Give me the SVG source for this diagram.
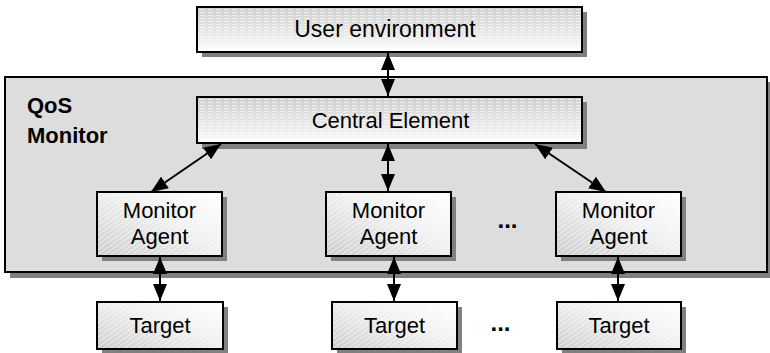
<svg xmlns="http://www.w3.org/2000/svg" width="770" height="353" viewBox="0 0 770 353">
  <defs>
    <linearGradient id="gradTop" x1="0" y1="0" x2="0" y2="1">
      <stop offset="0" stop-color="#cfcfcf"/>
      <stop offset="0.75" stop-color="#f0f0f0"/>
      <stop offset="1" stop-color="#ffffff"/>
    </linearGradient>
    <linearGradient id="gradBox" x1="0" y1="1" x2="1" y2="0">
      <stop offset="0" stop-color="#cccccc"/>
      <stop offset="0.55" stop-color="#f0f0f0"/>
      <stop offset="1" stop-color="#ffffff"/>
    </linearGradient>
    <pattern id="hatchH" width="8" height="3" patternUnits="userSpaceOnUse">
      <rect x="0" y="0" width="5" height="1" fill="#ffffff" opacity="0.6"/>
    </pattern>
    <pattern id="hatchD" width="4" height="4" patternUnits="userSpaceOnUse" patternTransform="rotate(-35)">
      <rect x="0" y="0" width="4" height="1" fill="#ffffff" opacity="0.55"/>
    </pattern>
    <marker id="arrow" markerUnits="userSpaceOnUse" markerWidth="18" markerHeight="14" refX="17" refY="7" orient="auto-start-reverse">
      <path d="M0,0 L17,7 L0,14 Z" fill="#000"/>
    </marker>
    <style>
      .shadow { fill: #808080; }
      .box { stroke: #000; stroke-width: 2; }
      .top { fill: url(#gradTop); }
      .node { fill: url(#gradBox); }
      .hh { fill: url(#hatchH); }
      .hd { fill: url(#hatchD); }
      .label { font-family: "Liberation Sans", Arial, sans-serif; font-size: 22px; fill: #000; text-anchor: middle; }
      .title { font-family: "Liberation Sans", Arial, sans-serif; font-size: 22px; font-weight: bold; fill: #000; }
      .dots { font-family: "Liberation Sans", Arial, sans-serif; font-size: 24px; font-weight: bold; fill: #000; text-anchor: middle; }
      .conn { stroke: #000; stroke-width: 2; fill: none; marker-start: url(#arrow); marker-end: url(#arrow); }
    </style>
  </defs>

  <rect width="770" height="353" fill="#ffffff"/>

  <!-- QoS Monitor container -->
  <g id="qos-monitor">
    <rect class="shadow" x="10" y="82" width="762" height="196"/>
    <rect x="5" y="77" width="762" height="195" fill="#dddddd" class="box"/>
    <text class="title" x="27" y="113">QoS</text>
    <text class="title" x="27" y="143">Monitor</text>
  </g>

  <!-- User environment -->
  <g id="user-environment">
    <rect class="shadow" x="202" y="12" width="385" height="45"/>
    <rect class="top box" x="197" y="7" width="385" height="45"/>
    <rect class="hh" x="198" y="8" width="383" height="43"/>
    <text class="label" x="385" y="37" style="font-size:23px">User environment</text>
  </g>

  <!-- Central Element -->
  <g id="central-element">
    <rect class="shadow" x="202" y="102" width="385" height="47"/>
    <rect class="top box" x="197" y="97" width="385" height="46"/>
    <rect class="hh" x="198" y="98" width="383" height="44"/>
    <text class="label" x="390.5" y="128">Central Element</text>
  </g>

  <!-- Monitor Agents -->
  <g id="agent-1">
    <rect class="shadow" x="102" y="197" width="125" height="64"/>
    <rect class="node box" x="97" y="192" width="125" height="64"/>
    <rect class="hd" x="98" y="193" width="123" height="62"/>
    <text class="label" x="159.5" y="218">Monitor</text>
    <text class="label" x="159.5" y="244">Agent</text>
  </g>
  <g id="agent-2">
    <rect class="shadow" x="331" y="197" width="125" height="64"/>
    <rect class="node box" x="326" y="192" width="125" height="64"/>
    <rect class="hd" x="327" y="193" width="123" height="62"/>
    <text class="label" x="388.5" y="218">Monitor</text>
    <text class="label" x="388.5" y="244">Agent</text>
  </g>
  <g id="agent-3">
    <rect class="shadow" x="561" y="197" width="125" height="64"/>
    <rect class="node box" x="556" y="192" width="125" height="64"/>
    <rect class="hd" x="557" y="193" width="123" height="62"/>
    <text class="label" x="618.5" y="218">Monitor</text>
    <text class="label" x="618.5" y="244">Agent</text>
  </g>
  <g id="agent-ellipsis">
    <text class="dots" x="507.5" y="228">...</text>
  </g>

  <!-- Targets -->
  <g id="target-1">
    <rect class="shadow" x="102" y="307" width="126" height="47"/>
    <rect class="node box" x="97" y="302" width="126" height="47"/>
    <rect class="hd" x="98" y="303" width="124" height="45"/>
    <text class="label" x="160" y="333">Target</text>
  </g>
  <g id="target-2">
    <rect class="shadow" x="337" y="307" width="125" height="47"/>
    <rect class="node box" x="332" y="302" width="125" height="47"/>
    <rect class="hd" x="333" y="303" width="123" height="45"/>
    <text class="label" x="394.5" y="333">Target</text>
  </g>
  <g id="target-3">
    <rect class="shadow" x="562" y="307" width="124" height="47"/>
    <rect class="node box" x="557" y="302" width="124" height="47"/>
    <rect class="hd" x="558" y="303" width="122" height="45"/>
    <text class="label" x="619" y="333">Target</text>
  </g>
  <g id="target-ellipsis">
    <text class="dots" x="500.5" y="331">...</text>
  </g>

  <!-- Connectors -->
  <g id="connectors">
    <path class="conn" d="M388,53 L388,96"/>
    <path class="conn" d="M221,144 L151,192"/>
    <path class="conn" d="M388,144 L388,191"/>
    <path class="conn" d="M535,144 L606,192"/>
    <path class="conn" d="M160,257 L160,301"/>
    <path class="conn" d="M394,257 L394,301"/>
    <path class="conn" d="M618,257 L618,301"/>
  </g>
</svg>
